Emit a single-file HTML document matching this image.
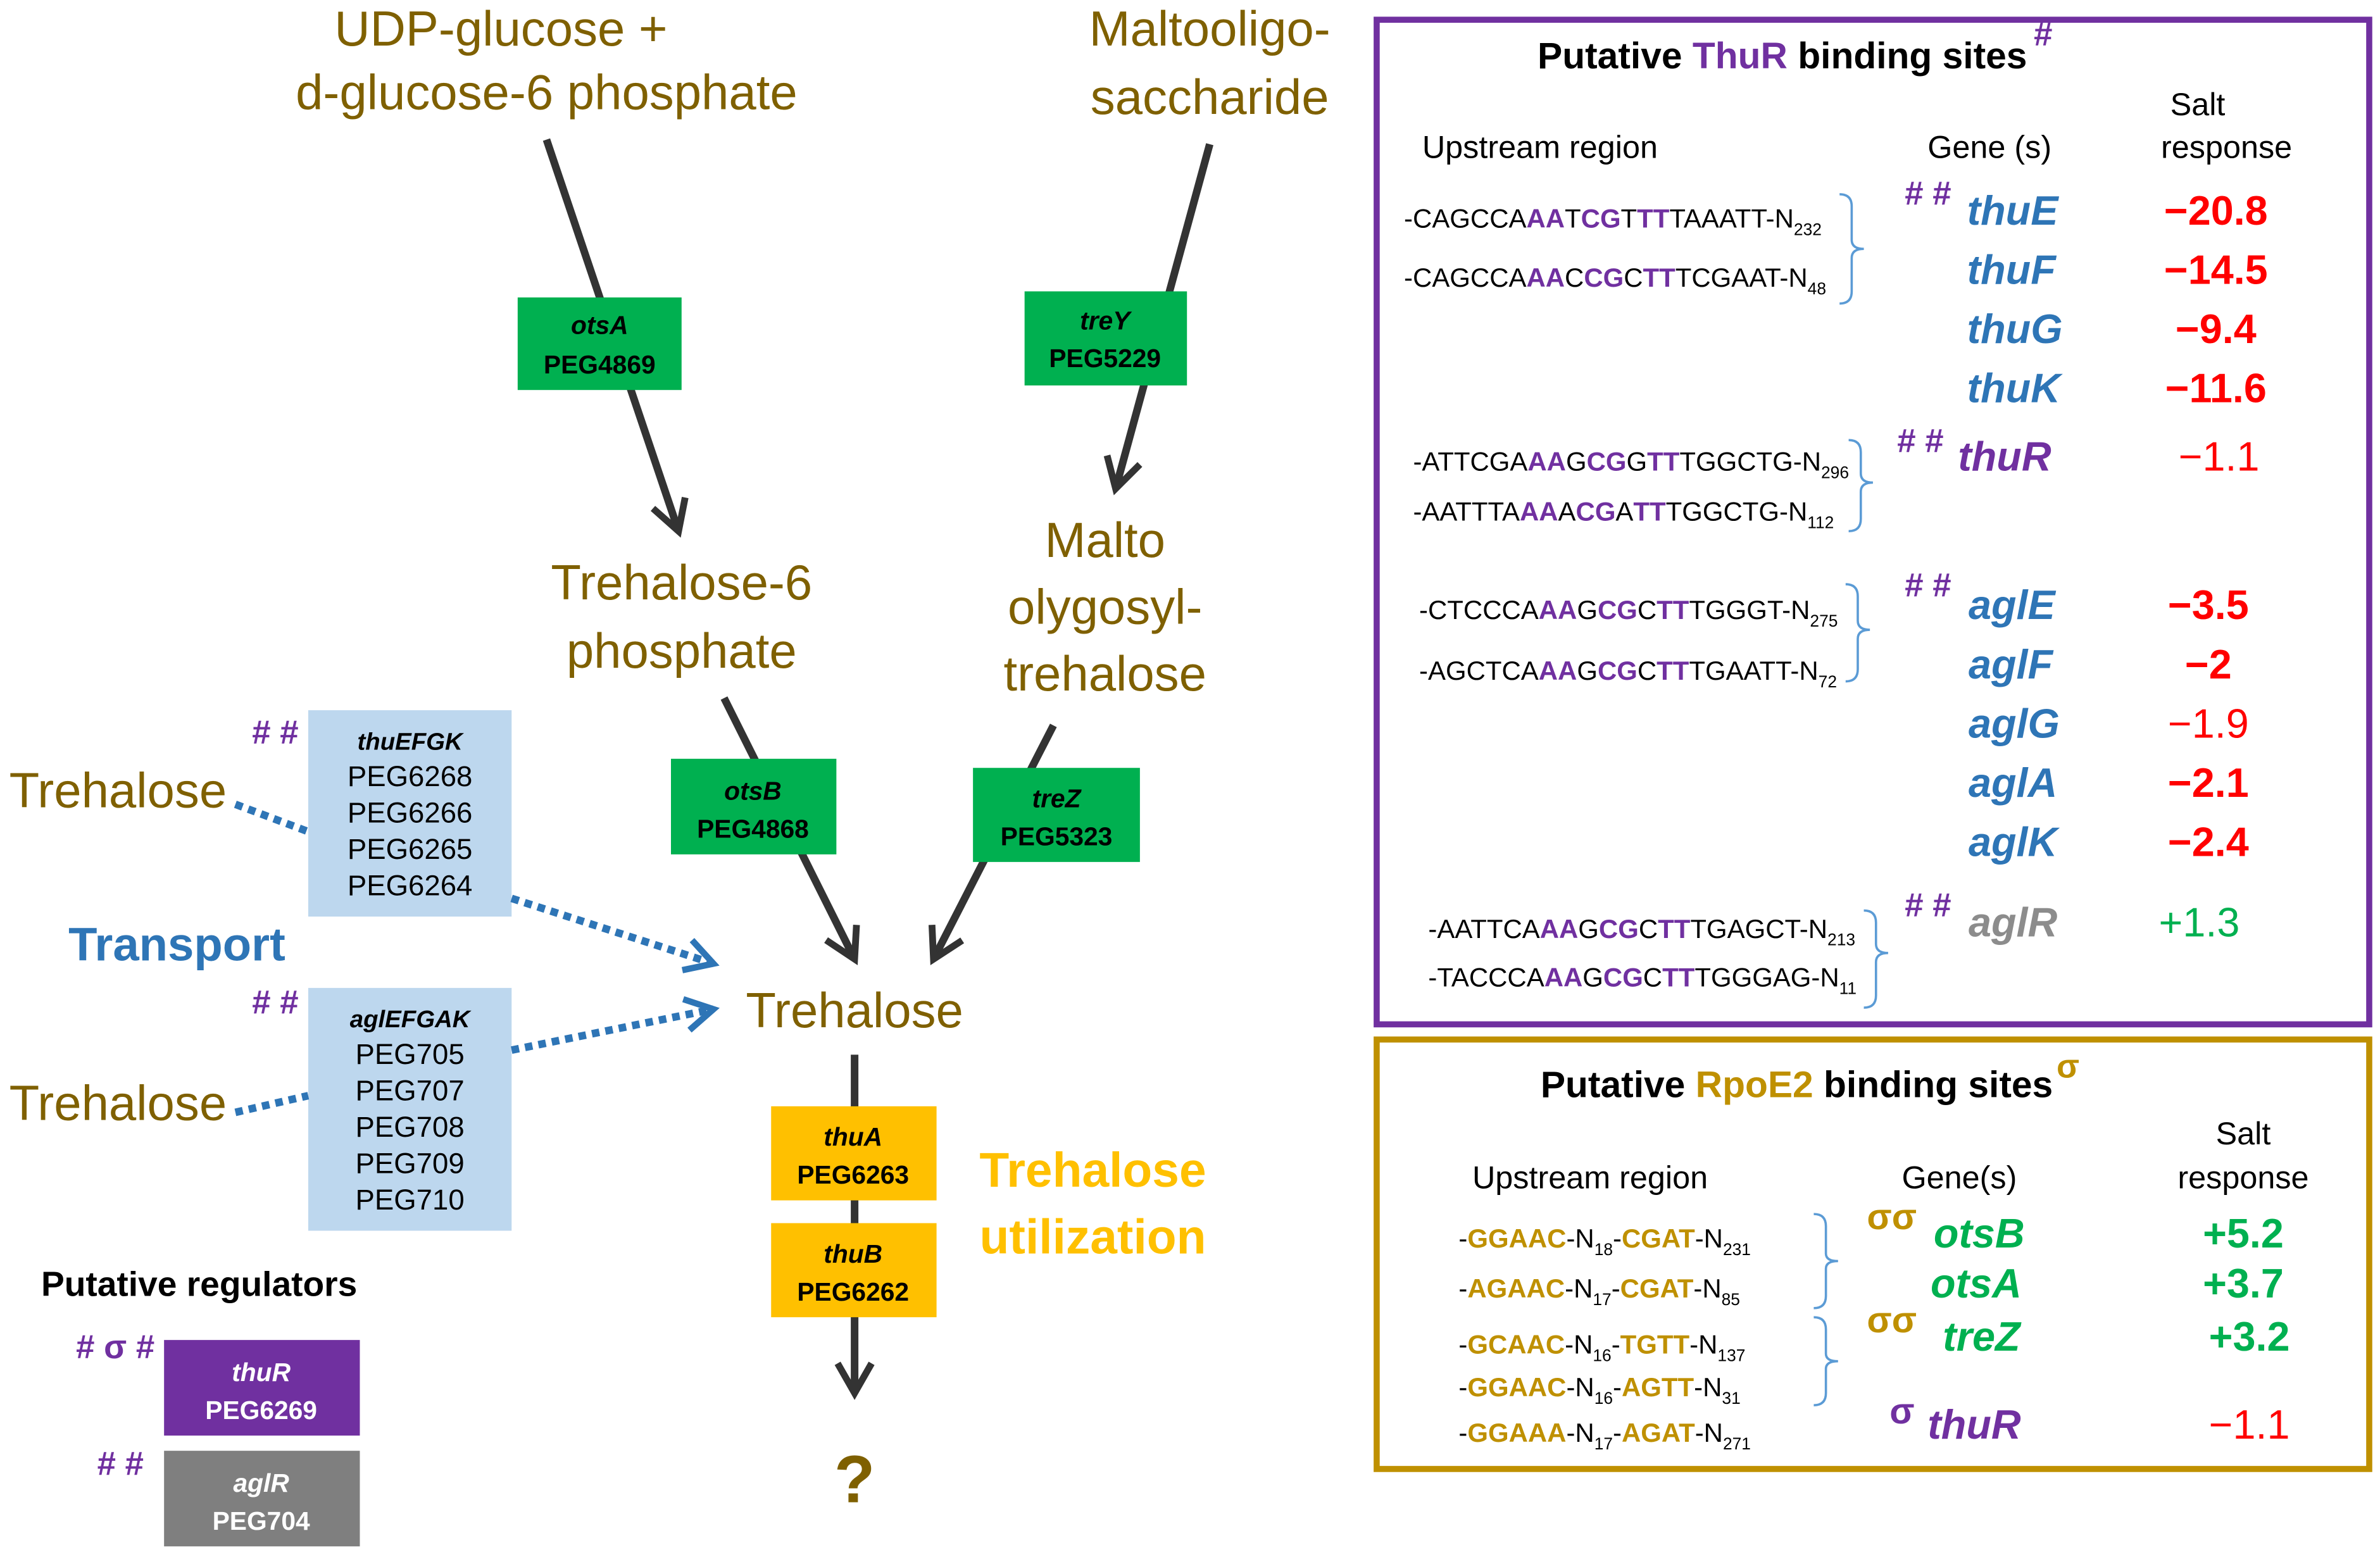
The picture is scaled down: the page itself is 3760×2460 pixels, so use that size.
<!DOCTYPE html>
<html><head><meta charset="utf-8"><style>
html,body{margin:0;padding:0;background:#fff;width:3760px;height:2460px;overflow:hidden}
svg{display:block}
text{font-family:"Liberation Sans",sans-serif}
.ol{fill:#7f6000;font-size:32.5px}
.gb{fill:#000;font-size:17px;font-weight:bold;text-anchor:middle}
.seq{font-size:17.5px;fill:#000}
.p{fill:#7030a0;font-weight:bold}
.g{fill:#bf9000;font-weight:bold}
.gene{font-size:27px;font-weight:bold;font-style:italic;fill:#2e75b6}
.val{font-size:27px;text-anchor:middle;fill:#ff0000}
.hh{fill:#7030a0;font-size:22px;font-weight:bold}
.br{fill:none;stroke:#5b9bd5;stroke-width:1.5}
</style></head><body>
<svg width="3760" height="2460" viewBox="0 0 1568 1026" xmlns="http://www.w3.org/2000/svg">
<defs>
<marker id="ah" viewBox="0 0 10 10" refX="8" refY="5" markerWidth="28" markerHeight="28" markerUnits="userSpaceOnUse" orient="auto"><path d="M1,1 L8,5 L1,9" fill="none" stroke="#333" stroke-width="1.6"/></marker>
<marker id="bh" viewBox="0 0 10 10" refX="8" refY="5" markerWidth="26" markerHeight="26" markerUnits="userSpaceOnUse" orient="auto"><path d="M1,1 L8,5 L1,9" fill="none" stroke="#2e75b6" stroke-width="1.6"/></marker>
</defs>
<text class="ol" x="330" y="30" text-anchor="middle">UDP-glucose  +</text>
<text class="ol" x="360" y="72" text-anchor="middle">d-glucose-6 phosphate</text>
<text class="ol" x="797" y="30" text-anchor="middle">Maltooligo-</text>
<text class="ol" x="797" y="75" text-anchor="middle">saccharide</text>
<g stroke="#333" stroke-width="5" fill="none">
<line x1="360" y1="92" x2="447" y2="350" marker-end="url(#ah)"/>
<line x1="797" y1="95" x2="735" y2="322" marker-end="url(#ah)"/>
<line x1="477" y1="460" x2="563" y2="632" marker-end="url(#ah)"/>
<line x1="694" y1="478" x2="615" y2="632" marker-end="url(#ah)"/>
<line x1="563" y1="695" x2="563" y2="918" marker-end="url(#ah)"/>
</g>
<rect x="341" y="196" width="108" height="61" fill="#00b050"/>
<text class="gb" x="395" y="220" font-style="italic">otsA</text><text class="gb" x="395" y="246">PEG4869</text>
<rect x="675" y="192" width="107" height="62" fill="#00b050"/>
<text class="gb" x="728" y="217" font-style="italic">treY</text><text class="gb" x="728" y="242">PEG5229</text>
<rect x="442" y="500" width="109" height="63" fill="#00b050"/>
<text class="gb" x="496" y="527" font-style="italic">otsB</text><text class="gb" x="496" y="552">PEG4868</text>
<rect x="641" y="506" width="110" height="62" fill="#00b050"/>
<text class="gb" x="696" y="532" font-style="italic">treZ</text><text class="gb" x="696" y="557">PEG5323</text>
<text class="ol" x="449" y="395" text-anchor="middle">Trehalose-6</text>
<text class="ol" x="449" y="440" text-anchor="middle">phosphate</text>
<text class="ol" x="728" y="367" text-anchor="middle">Malto</text>
<text class="ol" x="728" y="411" text-anchor="middle">olygosyl-</text>
<text class="ol" x="728" y="455" text-anchor="middle">trehalose</text>
<text class="ol" x="563" y="677" text-anchor="middle">Trehalose</text>
<rect x="508" y="729" width="109" height="62" fill="#ffc000"/>
<text class="gb" x="562" y="755" font-style="italic">thuA</text><text class="gb" x="562" y="780">PEG6263</text>
<rect x="508" y="806" width="109" height="62" fill="#ffc000"/>
<text class="gb" x="562" y="832" font-style="italic">thuB</text><text class="gb" x="562" y="857">PEG6262</text>
<text x="720" y="782" text-anchor="middle" font-size="32" font-weight="bold" fill="#ffc000">Trehalose</text>
<text x="720" y="826" text-anchor="middle" font-size="32" font-weight="bold" fill="#ffc000">utilization</text>
<text x="563" y="990" text-anchor="middle" font-size="44" font-weight="bold" fill="#7f6000">?</text>
<rect x="203" y="468" width="134" height="136" fill="#bdd7ee"/>
<g font-size="19" text-anchor="middle" fill="#000">
<text x="270" y="494" font-size="16" font-weight="bold" font-style="italic">thuEFGK</text>
<text x="270" y="518">PEG6268</text><text x="270" y="542">PEG6266</text><text x="270" y="566">PEG6265</text><text x="270" y="590">PEG6264</text>
</g>
<rect x="203" y="651" width="134" height="160" fill="#bdd7ee"/>
<g font-size="19" text-anchor="middle" fill="#000">
<text x="270" y="677" font-size="16" font-weight="bold" font-style="italic">aglEFGAK</text>
<text x="270" y="701">PEG705</text><text x="270" y="725">PEG707</text><text x="270" y="749">PEG708</text><text x="270" y="773">PEG709</text><text x="270" y="797">PEG710</text>
</g>
<text class="hh" x="166" y="490"># #</text>
<text class="hh" x="166" y="668"># #</text>
<text class="ol" x="6" y="532">Trehalose</text>
<text class="ol" x="6" y="738">Trehalose</text>
<g stroke="#2e75b6" stroke-width="5" fill="none" stroke-dasharray="5,4">
<line x1="155" y1="530" x2="203" y2="548"/>
<line x1="337" y1="592" x2="470" y2="635" marker-end="url(#bh)"/>
<line x1="155" y1="733" x2="203" y2="722"/>
<line x1="337" y1="692" x2="470" y2="665" marker-end="url(#bh)"/>
</g>
<text x="45" y="633" font-size="31" font-weight="bold" fill="#2e75b6">Transport</text>
<text x="27" y="854" font-size="23" font-weight="bold" fill="#000">Putative regulators</text>
<text class="hh" x="50" y="895"># σ #</text>
<rect x="108" y="883" width="129" height="63" fill="#7030a0"/>
<text x="172" y="910" text-anchor="middle" font-size="17" font-weight="bold" font-style="italic" fill="#fff">thuR</text>
<text x="172" y="935" text-anchor="middle" font-size="17" font-weight="bold" fill="#fff">PEG6269</text>
<text class="hh" x="64" y="972"># #</text>
<rect x="108" y="956" width="129" height="63" fill="#7f7f7f"/>
<text x="172" y="983" text-anchor="middle" font-size="17" font-weight="bold" font-style="italic" fill="#fff">aglR</text>
<text x="172" y="1008" text-anchor="middle" font-size="17" font-weight="bold" fill="#fff">PEG704</text>

<rect x="907" y="13" width="654" height="662" fill="none" stroke="#7030a0" stroke-width="4"/>
<text x="1013" y="45" font-size="24.5" font-weight="bold" fill="#000">Putative <tspan fill="#7030a0">ThuR</tspan> binding sites</text>
<text x="1340" y="30" font-size="22" font-weight="bold" fill="#7030a0">#</text>
<text x="1448" y="76" font-size="21" text-anchor="middle">Salt</text>
<text x="1467" y="104" font-size="21" text-anchor="middle">response</text>
<text x="937" y="104" font-size="21">Upstream region</text>
<text x="1270" y="104" font-size="21">Gene (s)</text>

<text class="seq" x="925" y="150">-CAGCCA<tspan class="p">AA</tspan>T<tspan class="p">CG</tspan>T<tspan class="p">TT</tspan>TAAATT-N<tspan font-size="11" dy="5">232</tspan></text>
<text class="seq" x="925" y="189">-CAGCCA<tspan class="p">AA</tspan>C<tspan class="p">CG</tspan>C<tspan class="p">TT</tspan>TCGAAT-N<tspan font-size="11" dy="5">48</tspan></text>
<path class="br" d="M1212,128 q8,0 8,8 v22 q0,6 8,6 q-8,0 -8,6 v22 q0,8 -8,8"/>
<text class="hh" x="1255" y="135"># #</text>
<text class="gene" x="1296" y="148">thuE</text><text class="gene" x="1296" y="187">thuF</text><text class="gene" x="1296" y="226">thuG</text><text class="gene" x="1296" y="265">thuK</text>
<text class="val" x="1460" y="148" font-weight="bold">−20.8</text><text class="val" x="1460" y="187" font-weight="bold">−14.5</text><text class="val" x="1460" y="226" font-weight="bold">−9.4</text><text class="val" x="1460" y="265" font-weight="bold">−11.6</text>

<text class="seq" x="931" y="310">-ATTCGA<tspan class="p">AA</tspan>G<tspan class="p">CG</tspan>G<tspan class="p">TT</tspan>TGGCTG-N<tspan font-size="11" dy="5">296</tspan></text>
<text class="seq" x="931" y="343">-AATTTA<tspan class="p">AA</tspan>A<tspan class="p">CG</tspan>A<tspan class="p">TT</tspan>TGGCTG-N<tspan font-size="11" dy="5">112</tspan></text>
<path class="br" d="M1218,290 q8,0 8,8 v14 q0,6 8,6 q-8,0 -8,6 v18 q0,8 -8,8"/>
<text class="hh" x="1250" y="298"># #</text>
<text class="gene" x="1290" y="310" style="fill:#7030a0">thuR</text>
<text class="val" x="1462" y="310">−1.1</text>

<text class="seq" x="935" y="408">-CTCCCA<tspan class="p">AA</tspan>G<tspan class="p">CG</tspan>C<tspan class="p">TT</tspan>TGGGT-N<tspan font-size="11" dy="5">275</tspan></text>
<text class="seq" x="935" y="448">-AGCTCA<tspan class="p">AA</tspan>G<tspan class="p">CG</tspan>C<tspan class="p">TT</tspan>TGAATT-N<tspan font-size="11" dy="5">72</tspan></text>
<path class="br" d="M1216,385 q8,0 8,8 v16 q0,6 8,6 q-8,0 -8,6 v20 q0,8 -8,8"/>
<text class="hh" x="1255" y="393"># #</text>
<text class="gene" x="1297" y="408">aglE</text><text class="gene" x="1297" y="447">aglF</text><text class="gene" x="1297" y="486">aglG</text><text class="gene" x="1297" y="525">aglA</text><text class="gene" x="1297" y="564">aglK</text>
<text class="val" x="1455" y="408" font-weight="bold">−3.5</text><text class="val" x="1455" y="447" font-weight="bold">−2</text><text class="val" x="1455" y="486">−1.9</text><text class="val" x="1455" y="525" font-weight="bold">−2.1</text><text class="val" x="1455" y="564" font-weight="bold">−2.4</text>

<text class="seq" x="941" y="618">-AATTCA<tspan class="p">AA</tspan>G<tspan class="p">CG</tspan>C<tspan class="p">TT</tspan>TGAGCT-N<tspan font-size="11" dy="5">213</tspan></text>
<text class="seq" x="941" y="650">-TACCCA<tspan class="p">AA</tspan>G<tspan class="p">CG</tspan>C<tspan class="p">TT</tspan>TGGGAG-N<tspan font-size="11" dy="5">11</tspan></text>
<path class="br" d="M1228,600 q8,0 8,8 v14 q0,6 8,6 q-8,0 -8,6 v22 q0,8 -8,8"/>
<text class="hh" x="1255" y="604"># #</text>
<text class="gene" x="1297" y="617" style="fill:#8c8c8c">aglR</text>
<text class="val" x="1449" y="617" style="fill:#00b050">+1.3</text>

<rect x="907" y="685" width="654" height="283" fill="none" stroke="#bf9000" stroke-width="4"/>
<text x="1015" y="723" font-size="24.5" font-weight="bold" fill="#000">Putative <tspan fill="#bf9000">RpoE2</tspan> binding sites</text>
<text x="1355" y="710" font-size="22" font-weight="bold" fill="#bf9000">σ</text>
<text x="1478" y="754" font-size="21" text-anchor="middle">Salt</text>
<text x="1478" y="783" font-size="21" text-anchor="middle">response</text>
<text x="970" y="783" font-size="21">Upstream region</text>
<text x="1253" y="783" font-size="21">Gene(s)</text>
<text class="seq" x="961" y="822">-<tspan class="g">GGAAC</tspan>-N<tspan font-size="11" dy="5">18</tspan><tspan dy="-5">-</tspan><tspan class="g">CGAT</tspan>-N<tspan font-size="11" dy="5">231</tspan></text>
<text class="seq" x="961" y="855">-<tspan class="g">AGAAC</tspan>-N<tspan font-size="11" dy="5">17</tspan><tspan dy="-5">-</tspan><tspan class="g">CGAT</tspan>-N<tspan font-size="11" dy="5">85</tspan></text>
<text class="seq" x="961" y="892">-<tspan class="g">GCAAC</tspan>-N<tspan font-size="11" dy="5">16</tspan><tspan dy="-5">-</tspan><tspan class="g">TGTT</tspan>-N<tspan font-size="11" dy="5">137</tspan></text>
<text class="seq" x="961" y="920">-<tspan class="g">GGAAC</tspan>-N<tspan font-size="11" dy="5">16</tspan><tspan dy="-5">-</tspan><tspan class="g">AGTT</tspan>-N<tspan font-size="11" dy="5">31</tspan></text>
<text class="seq" x="961" y="950">-<tspan class="g">GGAAA</tspan>-N<tspan font-size="11" dy="5">17</tspan><tspan dy="-5">-</tspan><tspan class="g">AGAT</tspan>-N<tspan font-size="11" dy="5">271</tspan></text>
<path class="br" d="M1195,800 q8,0 8,8 v18 q0,5 8,5 q-8,0 -8,5 v18 q0,8 -8,8"/>
<path class="br" d="M1195,868 q8,0 8,8 v16 q0,5 8,5 q-8,0 -8,5 v16 q0,8 -8,8"/>
<text x="1230" y="810" font-size="24" font-weight="bold" fill="#bf9000">σσ</text>
<text x="1230" y="878" font-size="24" font-weight="bold" fill="#bf9000">σσ</text>
<text x="1245" y="938" font-size="24" font-weight="bold" fill="#7030a0">σ</text>
<text class="gene" x="1274" y="822" style="fill:#00b050">otsB</text>
<text class="gene" x="1272" y="855" style="fill:#00b050">otsA</text>
<text class="gene" x="1280" y="890" style="fill:#00b050">treZ</text>
<text class="gene" x="1270" y="948" style="fill:#7030a0">thuR</text>
<text class="val" x="1478" y="822" font-weight="bold" style="fill:#00b050">+5.2</text>
<text class="val" x="1478" y="855" font-weight="bold" style="fill:#00b050">+3.7</text>
<text class="val" x="1482" y="890" font-weight="bold" style="fill:#00b050">+3.2</text>
<text class="val" x="1482" y="948">−1.1</text>
</svg>
</body></html>
